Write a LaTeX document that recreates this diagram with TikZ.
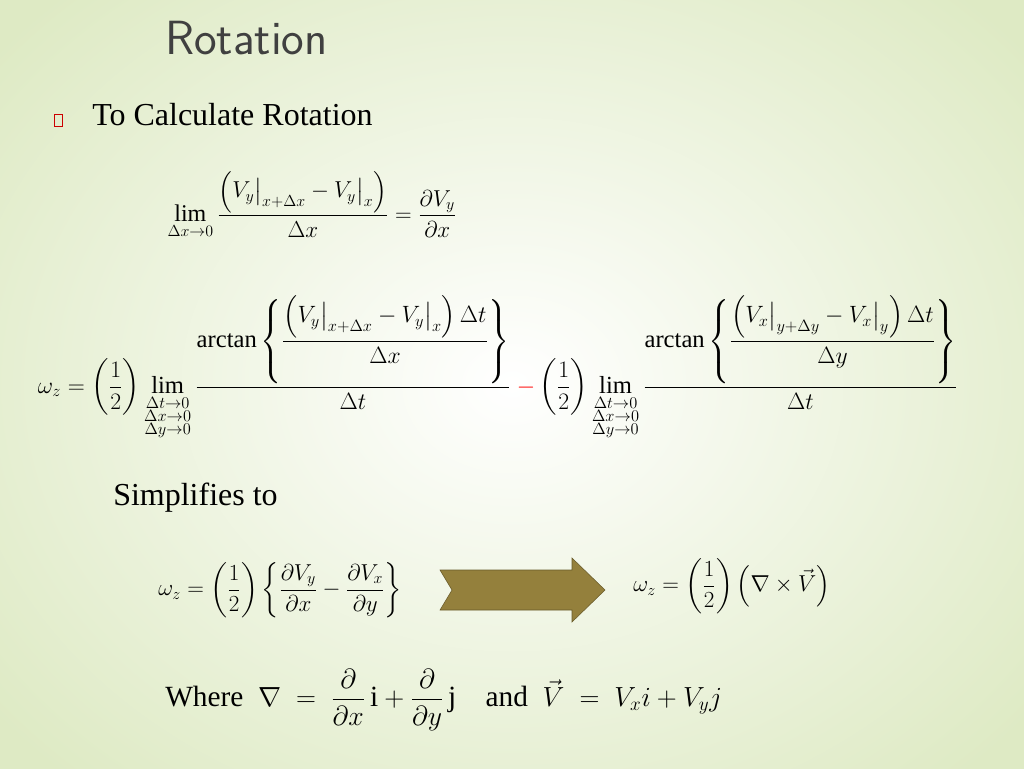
\documentclass[tikz,border=0pt]{standalone}
\usepackage{amsmath}
\usepackage{fontspec}
\setmainfont{Liberation Serif}
\definecolor{edgegreen}{RGB}{222,234,196}
\definecolor{arrowc}{RGB}{148,128,60}
\tikzset{eq/.style={inner sep=0pt,font=\fontsize{18}{22}\selectfont}}
\begin{document}
\begin{tikzpicture}[x=0.75pt,y=-0.75pt]
\useasboundingbox (0,0) rectangle (1024,768);
\shade[inner color=white,outer color=edgegreen] (-150,-150) rectangle (1174,918);
\node[anchor=west,inner sep=0pt,text=black!75,font=\fontsize{36}{40}\selectfont\sffamily] (title) at (165,38) {Rotation};
\node[draw=red!80!black,line width=0.6pt,minimum width=6pt,minimum height=9pt,inner sep=0pt] (bul) at (58,120) {};
\node[anchor=west,inner sep=0pt,font=\fontsize{24}{28}\selectfont] (sub) at (92,115) {To Calculate Rotation};
\node[eq] (e1) at (312,205) {$\displaystyle \lim_{\Delta x\to0}\frac{\left(V_y\big|_{x+\Delta x}-V_y\big|_{x}\right)}{\Delta x}=\frac{\partial V_y}{\partial x}$};
\node[eq] (e2) at (498,368) {\resizebox{690pt}{!}{$\displaystyle \omega_z=\left(\frac12\right)\lim_{\substack{\Delta t\to0\\ \Delta x\to0\\ \Delta y\to0}}\frac{\arctan\left\{\dfrac{\left(V_y\big|_{x+\Delta x}-V_y\big|_{x}\right)\Delta t}{\Delta x}\right\}}{\Delta t}\ {\color{red}-}\left(\frac12\right)\lim_{\substack{\Delta t\to0\\ \Delta x\to0\\ \Delta y\to0}}\frac{\arctan\left\{\dfrac{\left(V_x\big|_{y+\Delta y}-V_x\big|_{y}\right)\Delta t}{\Delta y}\right\}}{\Delta t}$}};
\node[anchor=west,inner sep=0pt,font=\fontsize{24}{28}\selectfont] (simp) at (113,498) {Simplifies to};
\node[eq,anchor=west] (e3) at (158,590) {$\displaystyle \omega_z=\left(\frac12\right)\left\{\frac{\partial V_y}{\partial x}-\frac{\partial V_x}{\partial y}\right\}$};
\filldraw[fill=arrowc,draw=arrowc!70!black] (440,570) -- (572,570) -- (572,558) -- (605,590) -- (572,622) -- (572,610) -- (440,610) -- (452,590) -- cycle;
\node[eq,anchor=west] (e4) at (633,586) {$\displaystyle \omega_z=\left(\frac12\right)\left(\nabla\times\vec V\right)$};
\node[anchor=west,inner sep=0pt,font=\fontsize{22}{26}\selectfont] (where) at (165,700) {Where\ \ $\nabla\ =\ \dfrac{\partial}{\partial x}\,\mathrm{i}+\dfrac{\partial}{\partial y}\,\mathrm{j}$\quad and\ \ $\vec V\ =\ V_x i+V_y j$};
\end{tikzpicture}
\end{document}
